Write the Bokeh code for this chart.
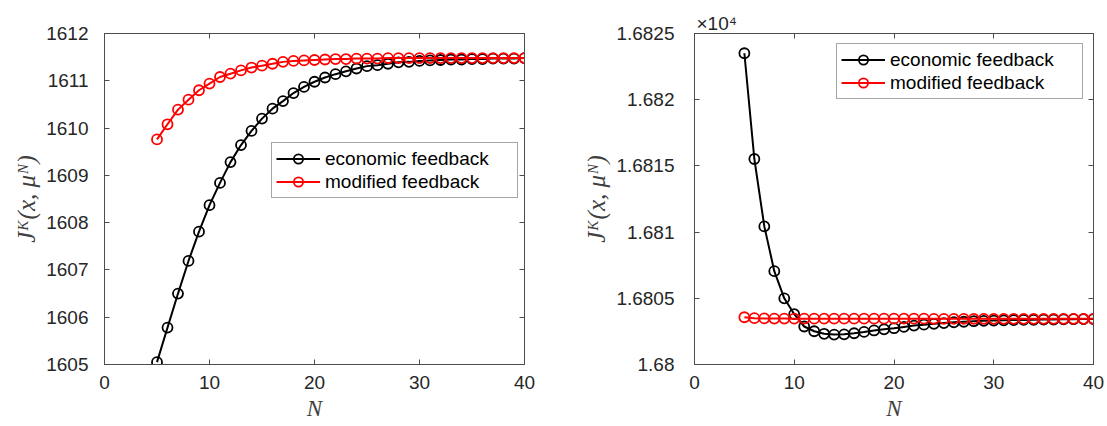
from bokeh.plotting import figure
from bokeh.models import Range1d, LinearAxis, FixedTicker, Legend, LegendItem, Title
from bokeh.layouts import row
from bokeh.embed import file_html
from bokeh.resources import INLINE

# ---------------- data ----------------
N = list(range(5, 41))

left_economic = [1605.05, 1605.78, 1606.50, 1607.19, 1607.81, 1608.37, 1608.84, 1609.28,
                 1609.64, 1609.94, 1610.20, 1610.41, 1610.57, 1610.74, 1610.87, 1610.98,
                 1611.07, 1611.14, 1611.20, 1611.26, 1611.31, 1611.33, 1611.36, 1611.39,
                 1611.40, 1611.42, 1611.43, 1611.44, 1611.45, 1611.45, 1611.46, 1611.46,
                 1611.47, 1611.47, 1611.47, 1611.48]
left_modified = [1609.76, 1610.08, 1610.39, 1610.60, 1610.80, 1610.94, 1611.08, 1611.15,
                 1611.22, 1611.28, 1611.32, 1611.36, 1611.40, 1611.42, 1611.43, 1611.44,
                 1611.45, 1611.46, 1611.46, 1611.47, 1611.47, 1611.47, 1611.48, 1611.48,
                 1611.48, 1611.48, 1611.48, 1611.48, 1611.48, 1611.48, 1611.48, 1611.48,
                 1611.48, 1611.48, 1611.48, 1611.48]

right_economic = [16823.51, 16815.52, 16810.43, 16807.05, 16805.00, 16803.80, 16802.87, 16802.51,
                  16802.32, 16802.26, 16802.28, 16802.36, 16802.46, 16802.57, 16802.66, 16802.74,
                  16802.84, 16802.94, 16803.01, 16803.07, 16803.13, 16803.19, 16803.23, 16803.27,
                  16803.30, 16803.32, 16803.34, 16803.36, 16803.37, 16803.38, 16803.39, 16803.40,
                  16803.41, 16803.42, 16803.43, 16803.43]
right_modified = [16803.57, 16803.50, 16803.48, 16803.47, 16803.47, 16803.46, 16803.46, 16803.46,
                  16803.46, 16803.46, 16803.46, 16803.46, 16803.46, 16803.46, 16803.46, 16803.46,
                  16803.46, 16803.46, 16803.46, 16803.45, 16803.45, 16803.45, 16803.45, 16803.45,
                  16803.45, 16803.45, 16803.45, 16803.45, 16803.45, 16803.45, 16803.45, 16803.45,
                  16803.45, 16803.45, 16803.45, 16803.45]

series_names = ["economic feedback", "modified feedback"]
series_colors = ["#000000", "#ff0000"]

x_ticks = [0, 10, 20, 30, 40]
left_y_ticks = [1605, 1606, 1607, 1608, 1609, 1610, 1611, 1612]
right_y_ticks = [16800, 16805, 16810, 16815, 16820, 16825]
right_y_tick_labels = ["1.68", "1.6805", "1.681", "1.6815", "1.682", "1.6825"]
exponent_text = "×10⁴"

x_label = "N"
y_label = "Jᴷ(x, μᴺ)"

AX = "#4d4d4d"
TXT = "#262626"
TICK_FONT = "Liberation Sans"
MATH_FONT = "Liberation Serif"


def mirror_axis(ticks):
    return LinearAxis(ticker=FixedTicker(ticks=ticks), major_label_text_font_size="1px",
                      major_label_text_color=None, major_label_standoff=0,
                      major_tick_in=5, major_tick_out=0, minor_tick_line_color=None,
                      axis_line_color=AX, major_tick_line_color=AX)


def make_fig(width, border_left, border_right, y_lo, y_hi, y_ticks, y_standoff,
             overrides=None, title=None):
    kw = {}
    if title:
        kw["title"] = Title(text=title, align="left", offset=2, standoff=0,
                            text_font=TICK_FONT, text_font_size="19px",
                            text_font_style="normal", text_color=TXT)
    p = figure(width=width, height=426, frame_width=width - border_left - border_right,
               frame_height=331, min_border_left=border_left, min_border_right=border_right,
               min_border_top=33, min_border_bottom=62,
               x_range=Range1d(0, 40), y_range=Range1d(y_lo, y_hi),
               output_backend="svg", toolbar_location=None, **kw)
    p.grid.visible = False
    p.outline_line_color = AX
    p.outline_line_width = 1
    p.background_fill_color = "white"
    p.border_fill_color = "white"
    p.xaxis.ticker = FixedTicker(ticks=x_ticks)
    p.yaxis.ticker = FixedTicker(ticks=y_ticks)
    if overrides:
        p.yaxis.major_label_overrides = overrides
    for ax in (p.xaxis[0], p.yaxis[0]):
        ax.axis_line_color = AX
        ax.major_tick_line_color = AX
        ax.major_tick_in = 5
        ax.major_tick_out = 0
        ax.minor_tick_line_color = None
        ax.major_label_text_font = TICK_FONT
        ax.major_label_text_font_size = "19px"
        ax.major_label_text_color = TXT
        ax.axis_label_text_font = MATH_FONT
        ax.axis_label_text_font_style = "italic"
        ax.axis_label_text_color = "#404040"
    p.xaxis.major_label_standoff = 11
    p.yaxis.major_label_standoff = y_standoff
    p.xaxis.axis_label = x_label
    p.xaxis.axis_label_text_font_size = "23px"
    p.xaxis.axis_label_standoff = 4
    p.yaxis.axis_label = y_label
    p.yaxis.axis_label_text_font_size = "25px"
    p.yaxis.axis_label_standoff = 3
    # mirrored ticks on top and right (boxed axes)
    p.add_layout(mirror_axis(x_ticks), "above")
    p.add_layout(mirror_axis(y_ticks), "right")
    return p


def add_series(p, ys_list, loc):
    items = []
    for ys, name, col in zip(ys_list, series_names, series_colors):
        lr = p.line(N, ys, line_color=col, line_width=2)
        sr = p.scatter(N, ys, marker="circle", size=10, fill_alpha=0,
                       line_color=col, line_width=1.8)
        items.append(LegendItem(label=name, renderers=[lr, sr]))
    leg = Legend(items=items, location=loc, margin=0, padding=4, spacing=0,
                 glyph_width=44, glyph_height=23, label_height=23, label_width=188,
                 label_standoff=5, label_text_font=TICK_FONT, label_text_font_size="19px",
                 label_text_color="#000000", border_line_color=AX, border_line_width=1,
                 background_fill_color="white", background_fill_alpha=1)
    p.add_layout(leg, "center")


p1 = make_fig(580, 104, 56, 1605, 1612, left_y_ticks, 16)
add_series(p1, [left_economic, left_modified], (167, 166))

p2 = make_fig(527, 112, 16, 16800, 16825, right_y_ticks, 20,
              overrides={t: s for t, s in zip(right_y_ticks, right_y_tick_labels)},
              title=exponent_text)
add_series(p2, [right_economic, right_modified], (142, 265))

layout = row(p1, p2)
open("out.html", "w").write(file_html(layout, INLINE))
